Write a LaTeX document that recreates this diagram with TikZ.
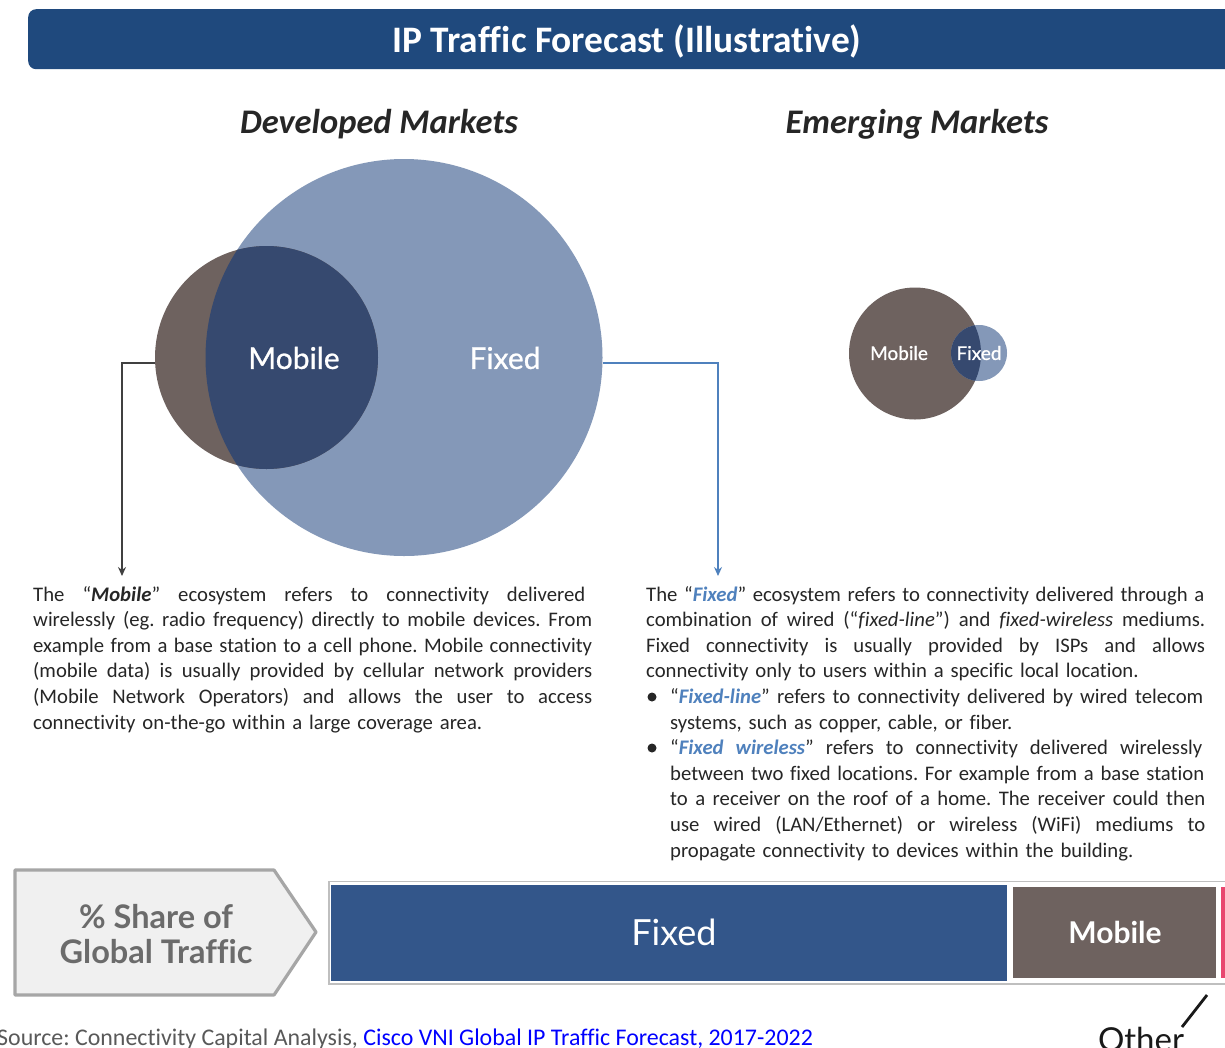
\documentclass[tikz,border=0pt]{standalone}
\usepackage{fontspec}
\setmainfont{Carlito}[Ligatures=NoCommon]
\newfontfamily\labelfont{Lato}[Ligatures=NoCommon]
\newfontface\labelmed{Lato}[FakeBold=0.8,Ligatures=NoCommon]
\usetikzlibrary{calc,arrows.meta}
\definecolor{hdrblue}{HTML}{1F497D}
\definecolor{fixedlt}{HTML}{8498B8}
\definecolor{mobgrey}{HTML}{6E625F}
\definecolor{overlapblue}{HTML}{36496F}
\definecolor{barblue}{HTML}{33568A}
\definecolor{linkblue}{HTML}{4F81BD}
\definecolor{bodytxt}{HTML}{262626}
\definecolor{srcgrey}{HTML}{595959}
\definecolor{sharegrey}{HTML}{6B6B6B}
\definecolor{otherpink}{HTML}{E8476F}
\newcommand{\bfx}[1]{\textcolor{linkblue}{\textbf{\textit{#1}}}}
\newcommand{\bmx}[1]{\textbf{\textit{#1}}}
\newcommand{\jlw}[2]{\hbox to #1{\spaceskip=.2em plus 1fil\relax\xspaceskip=\spaceskip #2}}
\newcommand{\jl}[1]{\jlw{\hsize}{#1}}
\tikzset{
  x=1pt,y=-1pt,
  blob/.style={circle,inner sep=0pt,minimum size=#1},
  circlabel/.style={font=\labelmed\fontsize{#1}{#1}\selectfont,text=white,inner sep=0pt},
  heading/.style={font=\fontsize{34.5}{40}\selectfont\bfseries\itshape,text=black!85,inner sep=0pt},
  bodytext/.style={anchor=north west,inner sep=0pt,text=bodytxt,
    font=\fontsize{20.7}{25.6}\selectfont\frenchspacing},
  conn/.style={-{Stealth[length=9pt,width=8pt]},line width=1.3pt},
}
\begin{document}
\begin{tikzpicture}
\useasboundingbox (0,0) rectangle (1225,1047);
\fill[white] (0,0) rectangle (1225,1047);
% header
\node[fill=hdrblue,rounded corners=8pt,minimum width=1210pt,minimum height=60pt,anchor=north west,inner sep=0pt] (hdr) at (28,9) {};
\node[text=white,font=\fontsize{37.4}{40}\selectfont\bfseries,inner sep=0pt] (title) at (627,41) {IP Traffic Forecast (Illustrative)};
\node[heading] (dev) at (379,124.5) {Developed Markets};
\node[heading] (emg) at (917,124.5) {Emerging Markets};
% developed circles
\node[blob=397pt,fill=fixedlt] (bigfixed) at (404,357.5) {};
\node[blob=223pt,fill=mobgrey] (bigmob) at (266.5,357.5) {};
\begin{scope}
  \clip (404,357.5) circle (198.5);
  \fill[overlapblue] (266.5,357.5) circle (111.5);
\end{scope}
\node[circlabel=30] (lmob) at (294,358) {Mobile};
\node[circlabel=30] (lfix) at (505,358) {Fixed};
% emerging circles
\node[blob=132pt,fill=mobgrey] (smmob) at (915,353.5) {};
\node[blob=56pt,fill=fixedlt] (smfix) at (979,353) {};
\begin{scope}
  \clip (979,353) circle (28);
  \fill[overlapblue] (915,353.5) circle (66);
\end{scope}
\node[circlabel=19] (lsmob) at (899,353) {Mobile};
\node[circlabel=19] (lsfix) at (979,353) {Fixed};
% connectors
\coordinate (mstart) at ($(bigmob.west)+(0,5.5)$);
\coordinate (mend) at (122,576);
\coordinate (fstart) at ($(bigfixed.east)+(0,5.5)$);
\coordinate (fend) at (718,576);
\draw[conn,draw=black!75] (mstart) -| (mend);
\draw[conn,draw=linkblue] (fstart) -| (fend);
% body text
\node[bodytext,text width=559pt] (ltext) at (33,586) {%
\jlw{552pt}{The “\bmx{Mobile}” ecosystem refers to connectivity delivered}
\jl{wirelessly (eg. radio frequency) directly to mobile devices. From}
\jl{example from a base station to a cell phone. Mobile connectivity}
\jl{(mobile data) is usually provided by cellular network providers}
\jl{(Mobile Network Operators) and allows the user to access}
\hbox{connectivity on-the-go within a large coverage area.}};
\node[bodytext,text width=559pt] (rtext) at (646,586) {%
\jlw{558pt}{The “\bfx{Fixed}” ecosystem refers to connectivity delivered through a}
\jl{combination of wired (“\textit{fixed-line}”) and \textit{fixed-wireless} mediums.}
\jl{Fixed connectivity is usually provided by ISPs and allows}
\hbox{connectivity only to users within a specific local location.}};
\node[bodytext,text width=535pt] (rb) at (670,688.4) {%
\jlw{533pt}{“\bfx{Fixed-line}” refers to connectivity delivered by wired telecom}
\hbox{systems, such as copper, cable, or fiber.}
\jlw{532pt}{“\bfx{Fixed wireless}” refers to connectivity delivered wirelessly}
\jlw{534pt}{between two fixed locations. For example from a base station}
\jl{to a receiver on the roof of a home. The receiver could then}
\jl{use wired (LAN/Ethernet) or wireless (WiFi) mediums to}
\hbox{propagate connectivity to devices within the building.}};
\fill[bodytxt] (652,697) circle (4.5) coordinate (b1);
\fill[bodytxt] (652,748) circle (4.5) coordinate (b2);
% share arrow
\draw[draw=black!35,line width=3.2pt,fill=black!6,line join=round] (15,870) -- (274,870) -- (316,932) -- (274,995) -- (15,995) -- cycle;
\node[font=\labelfont\fontsize{32.5}{35}\selectfont\bfseries,text=sharegrey,align=center,inner sep=0pt] (share) at (156,934) {\% Share of\\Global Traffic};
% bar
\draw[draw=black!25,line width=1.2pt] (329,881.5) rectangle (1240,984);
\node[fill=barblue,minimum width=676pt,minimum height=96pt,inner sep=0pt,anchor=north west] (bfix) at (331,885) {};
\node[fill=mobgrey,minimum width=203pt,minimum height=91pt,inner sep=0pt,anchor=north west] (bmob) at (1013,887) {};
\node[fill=otherpink,minimum width=10pt,minimum height=91pt,inner sep=0pt,anchor=north west] (both) at (1221,887) {};
\node[font=\labelfont\fontsize{36}{36}\selectfont,text=white,inner sep=0pt] (lbf) at (674,932) {Fixed};
\node[font=\labelfont\fontsize{30}{30}\selectfont\bfseries,text=white,inner sep=0pt] (lbm) at (1115,932) {Mobile};
% other
\node[anchor=base,font=\labelfont\fontsize{33}{33}\selectfont,text=black!90,inner sep=0pt] (loth) at (1141,1051) {Other};
\coordinate (otop) at (1207,995);
\draw[line width=2.8pt,black!90] (1182,1027) -- (otop);
% source
\node[anchor=base west,inner sep=0pt,text=srcgrey,font=\fontsize{23.9}{26}\selectfont\frenchspacing] (src) at (-3,1045) {Source: Connectivity Capital Analysis, \textcolor{blue}{Cisco VNI Global IP Traffic Forecast, 2017-2022}};
\end{tikzpicture}
\end{document}
